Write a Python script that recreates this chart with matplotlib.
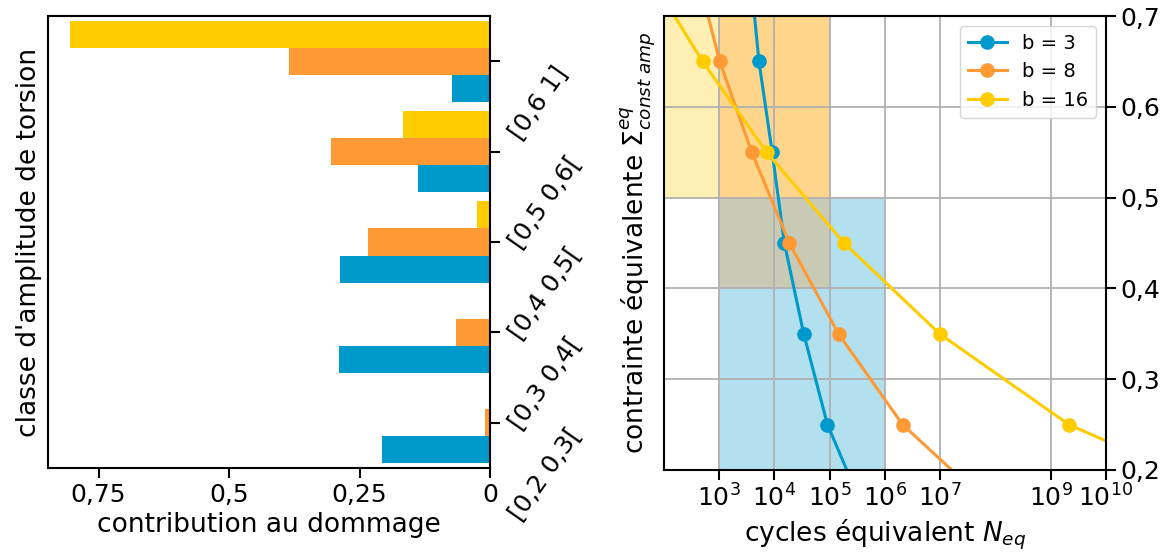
import numpy as np
import matplotlib
matplotlib.use("Agg")
import matplotlib.pyplot as plt
from matplotlib.ticker import FixedLocator, NullLocator

# damage contribution per torsion amplitude class (bottom to top)
classes = ["[0,2 0,3[", "[0,3 0,4[", "[0,4 0,5[", "[0,5 0,6[", "[0,6 1]"]
contrib_b3 = [0.207, 0.289, 0.287, 0.137, 0.073]
contrib_b8 = [0.009, 0.066, 0.234, 0.304, 0.385]
contrib_b16 = [0.0, 0.0, 0.024, 0.166, 0.805]

# equivalent stress vs equivalent cycles (first/last points are where lines leave the axes)
stress_b3 = [0.7, 0.65, 0.55, 0.45, 0.35, 0.25, 0.2]
log_n_b3 = [3.64, 3.72, 3.96, 4.18, 4.53, 4.96, 5.31]
stress_b8 = [0.7, 0.65, 0.55, 0.45, 0.35, 0.25, 0.2]
log_n_b8 = [2.80, 3.01, 3.59, 4.27, 5.16, 6.32, 7.21]
stress_b16 = [0.7, 0.65, 0.55, 0.45, 0.35, 0.25, 0.232]
log_n_b16 = [2.19, 2.70, 3.86, 5.26, 6.99, 9.33, 10.0]

# shaded domains (cycles range, stress range)
span_b16 = ([1e2, 1e5], [0.5, 0.7])
span_b3 = ([1e3, 1e6], [0.2, 0.5])
span_b8 = ([1e3, 1e5], [0.4, 0.7])

xtick_exp = [3, 4, 5, 6, 7, 9, 10]
ytick_vals = [0.2, 0.3, 0.4, 0.5, 0.6, 0.7]

blue = "#0099cc"
orange = "#ff9933"
yellow = "#ffcc00"

plt.rcParams["font.size"] = 18
plt.rcParams["axes.labelsize"] = 19
plt.rcParams["axes.linewidth"] = 1.5
plt.rcParams["xtick.major.width"] = 1.5
plt.rcParams["ytick.major.width"] = 1.5
plt.rcParams["xtick.major.size"] = 7
plt.rcParams["ytick.major.size"] = 7

fig = plt.figure(figsize=(11.73, 5.56), dpi=100)
ax1 = fig.add_axes([0.0409, 0.1583, 0.3768, 0.8129])
ax2 = fig.add_axes([0.566, 0.1547, 0.3768, 0.8165])

# left panel: bars
pos = np.arange(len(classes))
h = 0.3
ax1.barh(pos + h, contrib_b16, height=h, color=yellow)
ax1.barh(pos, contrib_b8, height=h, color=orange)
ax1.barh(pos - h, contrib_b3, height=h, color=blue)
ax1.set_xlim(0.847, 0)
ax1.set_ylim(-0.5, 4.5)
ax1.set_xticks([0.75, 0.5, 0.25, 0])
ax1.set_xticklabels(["0,75", "0,5", "0,25", "0"])
ax1.yaxis.tick_right()
ax1.yaxis.set_label_position("left")
ax1.set_yticks(pos)
ax1.set_yticklabels(classes, rotation=55, ha="left", va="top")
ax1.set_xlabel("contribution au dommage")
ax1.set_ylabel("classe d'amplitude de torsion")

# right panel: equivalent cycles
ax2.set_xscale("log")
ax2.set_axisbelow(True)
for (xs, ys), c in [(span_b16, yellow), (span_b3, blue), (span_b8, orange)]:
    ax2.fill_between(xs, ys[0], ys[1], color=c, alpha=0.3, linewidth=0, zorder=0.2)

for ln, s, c, lab in [(log_n_b3, stress_b3, blue, "b = 3"),
                      (log_n_b8, stress_b8, orange, "b = 8"),
                      (log_n_b16, stress_b16, yellow, "b = 16")]:
    ax2.plot(10.0 ** np.array(ln), s, color=c, lw=2.2, marker="o", ms=9.5,
             markevery=[1, 2, 3, 4, 5], label=lab)

ax2.set_xlim(1e2, 1e10)
ax2.set_ylim(0.2, 0.7)
ax2.xaxis.set_major_locator(FixedLocator([10.0 ** e for e in xtick_exp]))
ax2.xaxis.set_minor_locator(NullLocator())
ax2.set_xticklabels([r"$10^{%d}$" % e for e in xtick_exp])
ax2.yaxis.tick_right()
ax2.yaxis.set_label_position("left")
ax2.set_yticks(ytick_vals)
ax2.set_yticklabels([("%.1f" % v).replace(".", ",") for v in ytick_vals])
ax2.grid(True, color="#b0b0b0", lw=1.3)
ax2.set_xlabel(r"cycles équivalent $N_{eq}$")
ax2.set_ylabel(r"contrainte équivalente $\Sigma^{eq}_{const\ amp}$")
ax2.legend(loc="upper right", fontsize=14)

fig.savefig("out.png", dpi=100)
